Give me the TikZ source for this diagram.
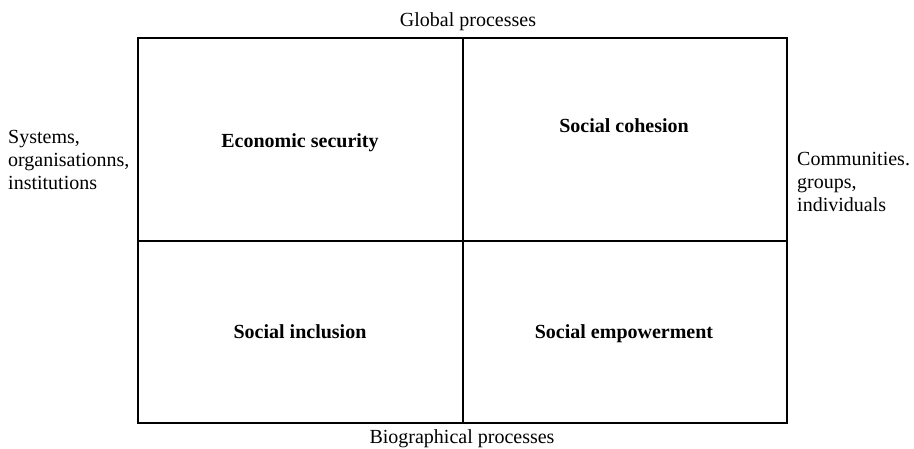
\documentclass[tikz,border=0pt]{standalone}
\usepackage{fontspec}
\setmainfont{Liberation Serif}
\usepackage{tikz}

\begin{document}
\begin{tikzpicture}[x=1pt,y=-1pt,
        txt/.style={font=\fontsize{20}{22.7}\selectfont, inner sep=0pt},
        quad/.style={txt, font=\fontsize{20}{22.7}\selectfont\bfseries}]
        \useasboundingbox (0,0) rectangle (914,448);
        % frame and quadrants
        \coordinate (NW) at (138,38);
        \coordinate (SE) at (786.5,422.7);
        \draw[line width=2pt] (NW) rectangle (SE);
        \draw[line width=2pt] (462.5,38) -- (462.5,422.7);
        \draw[line width=2pt] (138,240.7) -- (786.5,240.7);
        \node[quad, anchor=base] (EconSec) at (300,147) {Economic security};
        \node[quad, anchor=base] (SocCoh) at (624,132) {Social cohesion};
        \node[quad, anchor=base] (SocInc) at (300,338) {Social inclusion};
        \node[quad, anchor=base] (SocEmp) at (624,338) {Social empowerment};
        % axis labels
        \node[txt, anchor=base] (Global) at (468,26) {Global processes};
        \node[txt, anchor=base] (Biogr) at (462,443.5) {Biographical processes};
        \node[txt, anchor=base west, align=left] (Systems) at (8,189) {Systems,\\organisationns,\\institutions};
        \node[txt, anchor=base west, align=left] (Commun) at (797,211) {Communities.\\groups,\\individuals};
    \end{tikzpicture}
\end{document}
